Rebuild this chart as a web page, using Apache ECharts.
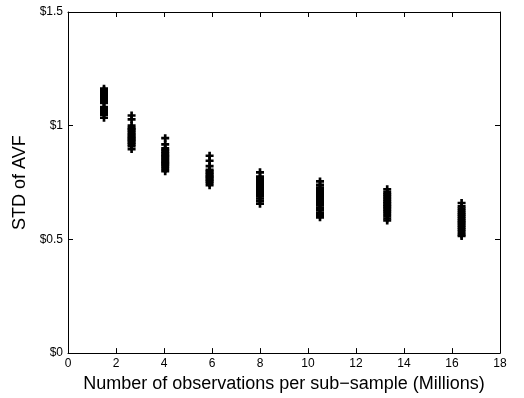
<!DOCTYPE html>
<html>
<head>
<meta charset="utf-8">
<script src="https://cdn.jsdelivr.net/npm/echarts@6/dist/echarts.min.js"></script>
<style>html,body{margin:0;padding:0;background:#fff}#c{width:524px;height:398px}</style>
</head>
<body>
<div id="c"></div>
<script>
// Sub-sample sizes (millions of observations)
var sampleSizes = [1.5, 2.65, 4.05, 5.9, 8.0, 10.5, 13.3, 16.4];
// STD of AVF ($) for each sub-sample, grouped by sample size
var std_1_5 = [1.163, 1.155, 1.148, 1.142, 1.137, 1.13, 1.125, 1.12, 1.114, 1.108, 1.10, 1.082, 1.076, 1.07, 1.065, 1.06, 1.055, 1.048, 1.035];
var std_2_65 = [1.045, 1.028, 1.0, 0.99, 0.985, 0.978, 0.97, 0.963, 0.957, 0.95, 0.944, 0.938, 0.932, 0.925, 0.918, 0.91, 0.897];
var std_4_05 = [0.945, 0.918, 0.9, 0.893, 0.886, 0.879, 0.872, 0.866, 0.86, 0.853, 0.847, 0.84, 0.834, 0.828, 0.82, 0.81, 0.8];
var std_5_9 = [0.868, 0.846, 0.822, 0.806, 0.8, 0.793, 0.787, 0.78, 0.775, 0.768, 0.762, 0.755, 0.748, 0.738];
var std_8_0 = [0.795, 0.776, 0.765, 0.757, 0.75, 0.744, 0.738, 0.732, 0.726, 0.72, 0.713, 0.706, 0.698, 0.69, 0.68, 0.67, 0.657];
var std_10_5 = [0.755, 0.74, 0.728, 0.717, 0.708, 0.698, 0.69, 0.682, 0.674, 0.666, 0.658, 0.65, 0.64, 0.63, 0.618, 0.608, 0.597];
var std_13_3 = [0.72, 0.707, 0.698, 0.69, 0.682, 0.674, 0.666, 0.659, 0.652, 0.645, 0.638, 0.63, 0.622, 0.612, 0.602, 0.592, 0.583];
var std_16_4 = [0.66, 0.645, 0.635, 0.626, 0.617, 0.609, 0.6, 0.592, 0.584, 0.576, 0.568, 0.56, 0.552, 0.543, 0.533, 0.522, 0.515];
var stdGroups = [std_1_5, std_2_65, std_4_05, std_5_9, std_8_0, std_10_5, std_13_3, std_16_4];
var xTicks = [0, 2, 4, 6, 8, 10, 12, 14, 16, 18];
var yTicks = [0, 0.5, 1, 1.5];

var points = [];
stdGroups.forEach(function (g, i) {
  g.forEach(function (v) { points.push([sampleSizes[i], v]); });
});

var font = 'Liberation Sans, Arial, Helvetica, sans-serif';
var plusPath = 'path://M3,0h3v3h3v3h-3v3h-3v-3h-3v-3h3z';
var axisLine = { show: true, onZero: false, lineStyle: { color: '#000', width: 1 } };
var tick = { show: true, inside: true, length: 5, lineStyle: { color: '#000', width: 1 } };

var chart = echarts.init(document.getElementById('c'), null, { renderer: 'canvas' });
chart.setOption({
  animation: false,
  backgroundColor: '#fff',
  grid: { left: 68, right: 24, top: 12, bottom: 43, containLabel: false },
  xAxis: [{
    type: 'value', min: xTicks[0], max: xTicks[xTicks.length - 1], interval: 2,
    position: 'bottom',
    axisLine: axisLine, axisTick: tick, splitLine: { show: false },
    axisLabel: { color: '#000', fontSize: 12, fontFamily: font, margin: 5 },
    name: 'Number of observations per sub\u2212sample (Millions)',
    nameLocation: 'middle', nameGap: 20,
    nameTextStyle: { color: '#000', fontSize: 18, fontFamily: font }
  }, {
    type: 'value', min: xTicks[0], max: xTicks[xTicks.length - 1], interval: 2,
    position: 'top',
    axisLine: axisLine, axisTick: tick, splitLine: { show: false },
    axisLabel: { show: false }
  }],
  yAxis: [{
    type: 'value', min: yTicks[0], max: yTicks[yTicks.length - 1], interval: 0.5,
    position: 'left',
    axisLine: axisLine, axisTick: tick, splitLine: { show: false },
    axisLabel: { color: '#000', fontSize: 12, fontFamily: font, margin: 5,
      formatter: function (v) { return '$' + v; } },
    name: 'STD of AVF', nameLocation: 'middle', nameGap: 38, nameRotate: 90,
    nameTextStyle: { color: '#000', fontSize: 18, fontFamily: font }
  }, {
    type: 'value', min: yTicks[0], max: yTicks[yTicks.length - 1], interval: 0.5,
    position: 'right',
    axisLine: axisLine, axisTick: tick, splitLine: { show: false },
    axisLabel: { show: false }
  }],
  series: [{
    type: 'scatter',
    data: points,
    symbol: plusPath,
    symbolSize: 8,
    itemStyle: { color: '#000', opacity: 1 },
    xAxisIndex: 0, yAxisIndex: 0
  }]
});
</script>
</body>
</html>
